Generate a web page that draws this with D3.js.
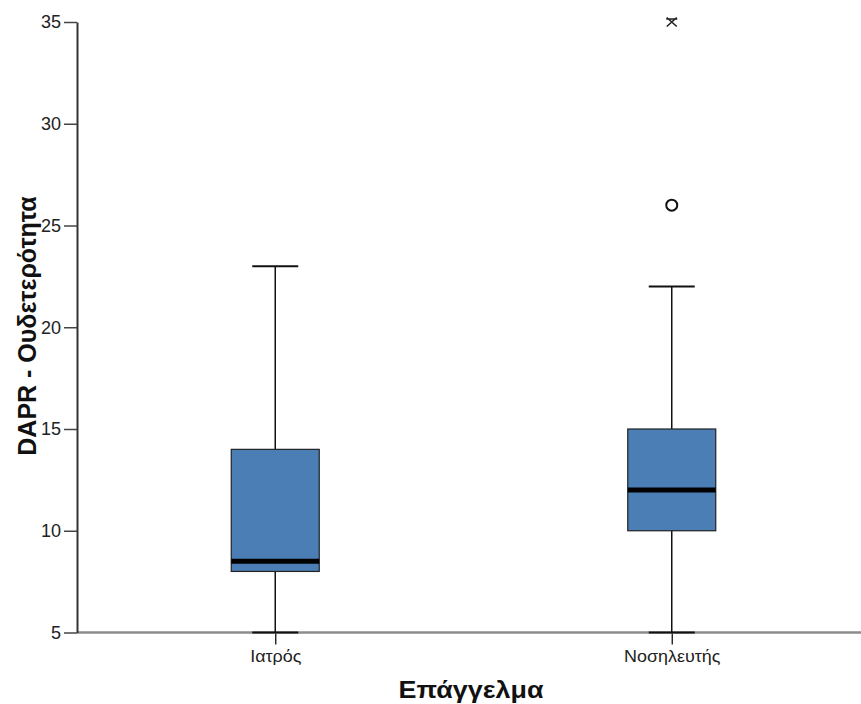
<!DOCTYPE html>
<html><head><meta charset="utf-8">
<script src="https://cdn.jsdelivr.net/npm/d3@7/dist/d3.min.js"></script>
<style>
html,body{margin:0;padding:0;background:#fff;}
svg{display:block;}
text{font-family:"Liberation Sans", Arial, sans-serif;}
</style></head>
<body>
<svg id="chart" width="861" height="704"></svg>
<script>
const categories = ["Ιατρός", "Νοσηλευτής"];
const whiskerLow = [5, 5];
const q1 = [8, 10];
const median = [8.5, 12];
const q3 = [14, 15];
const whiskerHigh = [23, 22];
const outliers = [[], [26]];
const extremes = [[], [35]];
const yTicks = [5, 10, 15, 20, 25, 30, 35];
const yTitle = "DAPR - Ουδετερότητα";
const xTitle = "Επάγγελμα";

(function () {
const svg = d3.select("#chart");
const mLeft = 77, mRight = 870, mTop = 22, mBottom = 632.5;
const y = d3.scaleLinear().domain([5, 35]).range([mBottom, mTop]);
const x = d3.scalePoint().domain(categories).range([mLeft, mRight]).padding(0.5);
const boxW = 88, capW = 46;

// x axis
const xAxis = svg.append("g").attr("transform", `translate(0,${mBottom})`)
  .call(d3.axisBottom(x).tickSize(12).tickPadding(6).tickSizeOuter(0));
xAxis.select(".domain").remove();
xAxis.selectAll(".tick line").attr("stroke", "#111").attr("stroke-width", 1.3);
xAxis.selectAll(".tick text").attr("font-size", 16).attr("fill", "#222")
  .attr("transform", "scale(1.12,1)");
svg.append("line").attr("x1", mLeft).attr("x2", 861).attr("y1", mBottom).attr("y2", mBottom)
  .attr("stroke", "#8c8c8c").attr("stroke-width", 2.5);

// y axis
const yAxis = svg.append("g").attr("transform", `translate(${mLeft},0)`)
  .call(d3.axisLeft(y).tickValues(yTicks).tickSize(13).tickPadding(3).tickSizeOuter(0));
yAxis.select(".domain").attr("stroke", "#333").attr("stroke-width", 2);
yAxis.selectAll(".tick line").attr("stroke", "#444").attr("stroke-width", 1.5);
yAxis.selectAll(".tick text").attr("font-size", 18).attr("fill", "#222");

const g = svg.append("g");
categories.forEach((c, i) => {
  const cx = x(c);
  g.append("line").attr("x1", cx).attr("x2", cx).attr("y1", y(whiskerHigh[i])).attr("y2", y(q3[i]))
    .attr("stroke", "#111").attr("stroke-width", 1.5);
  g.append("line").attr("x1", cx).attr("x2", cx).attr("y1", y(q1[i])).attr("y2", y(whiskerLow[i]))
    .attr("stroke", "#111").attr("stroke-width", 1.5);
  [whiskerHigh[i], whiskerLow[i]].forEach(v => {
    g.append("line").attr("x1", cx - capW / 2).attr("x2", cx + capW / 2).attr("y1", y(v)).attr("y2", y(v))
      .attr("stroke", "#111").attr("stroke-width", 2);
  });
  g.append("rect").attr("x", cx - boxW / 2).attr("width", boxW)
    .attr("y", y(q3[i])).attr("height", y(q1[i]) - y(q3[i]))
    .attr("fill", "#4a7eb4").attr("stroke", "#222").attr("stroke-width", 1.2);
  g.append("line").attr("x1", cx - boxW / 2).attr("x2", cx + boxW / 2).attr("y1", y(median[i])).attr("y2", y(median[i]))
    .attr("stroke", "#000").attr("stroke-width", 5);
  outliers[i].forEach(v => {
    g.append("circle").attr("cx", cx).attr("cy", y(v)).attr("r", 5.5)
      .attr("fill", "none").attr("stroke", "#111").attr("stroke-width", 2);
  });
  extremes[i].forEach(v => {
    const ey = y(v);
    const p = d3.path();
    p.moveTo(cx - 5.5, ey - 3); p.lineTo(cx + 5.5, ey - 3);
    p.moveTo(cx - 5, ey + 4.5); p.lineTo(cx + 5, ey - 4.5);
    p.moveTo(cx + 5, ey + 4.5); p.lineTo(cx - 5, ey - 4.5);
    g.append("path").attr("d", p.toString()).attr("stroke", "#222").attr("stroke-width", 1.6).attr("fill", "none");
  });
});

svg.append("text").attr("transform", "translate(471,698) scale(1.12,1)").attr("text-anchor", "middle")
  .attr("font-size", 24).attr("font-weight", "bold").attr("fill", "#111").text(xTitle);
svg.append("text").attr("transform", `translate(36,326) rotate(-90)`).attr("text-anchor", "middle")
  .attr("font-size", 25).attr("font-weight", "bold").attr("fill", "#111").text(yTitle);
})();
</script>
</body></html>
